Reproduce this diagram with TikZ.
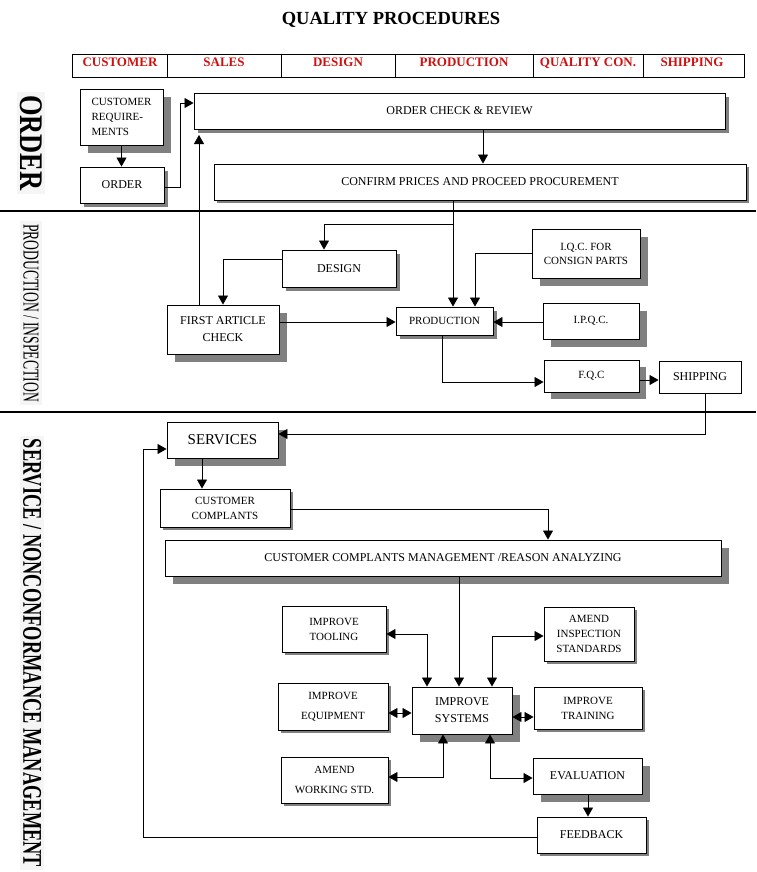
\documentclass[tikz,border=0pt]{standalone}
\usepackage{fontspec}
\setmainfont{Liberation Serif}
\usetikzlibrary{arrows.meta,shadows}
\definecolor{hdr}{RGB}{208,16,16}
\begin{document}
\begin{tikzpicture}[x=1pt,y=-1pt,
  bx/.style={draw, fill=white, line width=0.9pt, inner sep=0pt, align=center},
  shd/.style={drop shadow={shadow xshift=#1pt, shadow yshift=-#1pt, fill=black!50, opacity=1}},
  fA/.style={font=\fontsize{12}{#1}\selectfont},
  fB/.style={font=\fontsize{11}{#1}\selectfont},
  hd/.style={font=\fontsize{13}{13}\selectfont\bfseries, text=hdr, inner sep=0pt, anchor=base},
  lbl/.style={rotate=-90, inner sep=3pt, fill=black!4},
  con/.style={line width=0.8pt},
  arr/.style={con, -{Triangle[length=9pt,width=10pt]}},
  darr/.style={con, {Triangle[length=9pt,width=10pt]}-{Triangle[length=9pt,width=10pt]}}
]
\useasboundingbox (0,0) rectangle (756,872);

% title and header
\node[font=\fontsize{18.5}{19}\selectfont\bfseries, inner sep=0pt, anchor=base] (title) at (391,25) {QUALITY PROCEDURES};
\draw[line width=0.9pt] (72,54) rectangle (744,77);
\foreach \xx in {167,281,395,533,643} \draw[line width=0.9pt] (\xx,54) -- (\xx,77);
\node[hd] (h1) at (120,67) {CUSTOMER};
\node[hd] (h2) at (224,67) {SALES};
\node[hd] (h3) at (338,67) {DESIGN};
\node[hd] (h4) at (464,67) {PRODUCTION};
\node[hd] (h5) at (588,67) {QUALITY CON.};
\node[hd] (h6) at (692,67) {SHIPPING};

% section separators
\draw[line width=2.2pt] (0,211) -- (756,211);
\draw[line width=2.2pt] (0,412) -- (756,412);

% section labels
\node[lbl] (s1) at (31,143) {\scalebox{0.8}[1]{\fontsize{33}{33}\selectfont\bfseries ORDER}};
\node[lbl] (s2) at (31,313) {\scalebox{0.6}[1]{\fontsize{22.7}{23}\selectfont PRODUCTION / INSPECTION}};
\node[lbl] (s3) at (32,653) {\scalebox{0.68}[1]{\fontsize{27}{27}\selectfont\bfseries SERVICE / NONCONFORMANCE MANAGEMENT}};

% ORDER section
\node[bx, shd=8, fB=15, align=left, minimum width=83pt, minimum height=56pt] (cr) at (121.5,117) {CUSTOMER\\REQUIRE-\\MENTS};
\node[bx, shd=4, fA=15, minimum width=84pt, minimum height=36pt] (ord) at (122,185) {ORDER};
\node[bx, shd=4, fA=15, minimum width=531pt, minimum height=36pt] (occ) at (459.5,111) {ORDER CHECK \& REVIEW};
\node[bx, shd=3, fA=15, minimum width=532pt, minimum height=36pt] (conf) at (480,182) {CONFIRM PRICES AND PROCEED PROCUREMENT};

% PRODUCTION / INSPECTION section
\node[bx, shd=4, fA=15, minimum width=114pt, minimum height=37pt] (design) at (339,268.5) {DESIGN};
\node[bx, shd=8, fA=17, minimum width=112pt, minimum height=49pt] (fac) at (223,329.5) {FIRST ARTICLE\\CHECK};
\node[bx, shd=4, fB=15, minimum width=97pt, minimum height=28pt] (prod) at (444.5,321) {PRODUCTION};
\node[bx, shd=8, fB=14, minimum width=108pt, minimum height=49pt] (iqc) at (586,253.5) {I.Q.C. FOR\\CONSIGN PARTS};
\node[bx, shd=8, fB=15, minimum width=96pt, minimum height=36pt] (ipqc) at (591,321) {\raisebox{3pt}{I.P.Q.C.}};
\node[bx, shd=7, fB=15, minimum width=95pt, minimum height=32pt] (fqc) at (591.5,376) {F.Q.C};
\node[bx, fA=15, minimum width=82pt, minimum height=32pt] (ship) at (700,377) {SHIPPING};

% SERVICE section
\node[bx, shd=8, font=\fontsize{15}{18}\selectfont, minimum width=111pt, minimum height=36pt] (services) at (222.5,440) {SERVICES};
\node[bx, shd=3, fB=15, minimum width=130pt, minimum height=38pt] (cc) at (225,508) {CUSTOMER\\COMPLANTS};
\node[bx, shd=8, fA=15, minimum width=556pt, minimum height=36pt] (ccm) at (443,558) {CUSTOMER COMPLANTS MANAGEMENT /REASON ANALYZING};
\node[bx, shd=3, fB=15, minimum width=104pt, minimum height=46pt] (tooling) at (334,629) {IMPROVE\\TOOLING};
\node[bx, shd=3, fB=20, minimum width=110pt, minimum height=47pt] (equip) at (333,706.5) {IMPROVE\\EQUIPMENT};
\node[bx, shd=3, fB=20, minimum width=107pt, minimum height=46pt] (ws) at (334.5,780) {AMEND\\WORKING STD.};
\node[bx, shd=3, fB=15, minimum width=90pt, minimum height=54pt] (ais) at (589,634) {AMEND\\INSPECTION\\STANDARDS};
\node[bx, shd=8, fA=17, minimum width=100pt, minimum height=47pt] (is) at (462,710.5) {IMPROVE\\SYSTEMS};
\node[bx, shd=3, fB=15, minimum width=108pt, minimum height=42pt] (it) at (588,708) {IMPROVE\\TRAINING};
\node[bx, shd=8, fA=15, minimum width=109pt, minimum height=36pt] (eval) at (587.5,776) {EVALUATION};
\node[bx, shd=3, fA=15, minimum width=109pt, minimum height=36pt] (fb) at (591.5,835) {FEEDBACK};

% connectors: ORDER
\draw[arr] (cr.south) -- (cr.south |- ord.north);
\draw[arr] (ord.east |- 0,187) -- (180,187) -- (180,103) -- (occ.west |- 0,103);
\draw[arr] (fac.north -| 199,0) -- (199,135);
\draw[arr] (occ.south -| 483,0) -- (conf.north -| 483,0);

% connectors: PRODUCTION / INSPECTION
\draw[arr] (conf.south -| 453,0) -- (prod.north -| 453,0);
\draw[arr] (453,224) -- (324,224) -- (design.north -| 324,0);
\draw[arr] (design.west |- 0,259) -- (223,259) -- (fac.north -| 223,0);
\draw[arr] (fac.east |- 0,322) -- (prod.west |- 0,322);
\draw[arr] (iqc.west |- 0,253) -- (475,253) -- (prod.north -| 475,0);
\draw[arr] (ipqc.west |- 0,322) -- (prod.east |- 0,322);
\draw[arr] (prod.south -| 442,0) -- (442,382) -- (fqc.west |- 0,382);
\draw[arr] (fqc.east |- 0,380) -- (ship.west |- 0,380);
\draw[arr] (ship.south -| 705,0) -- (705,434) -- (services.east |- 0,434);

% connectors: SERVICE
\draw[arr] (services.south -| 202,0) -- (cc.north -| 202,0);
\draw[arr] (cc.east |- 0,509) -- (548,509) -- (ccm.north -| 548,0);
\draw[arr] (ccm.south -| 459,0) -- (is.north -| 459,0);
\draw[darr] (tooling.east |- 0,634) -- (427,634) -- (is.north -| 427,0);
\draw[darr] (is.north -| 492,0) -- (492,636) -- (ais.west |- 0,636);
\draw[darr] (equip.east |- 0,713) -- (is.west |- 0,713);
\draw[darr] (is.east |- 0,717) -- (it.west |- 0,717);
\draw[darr] (is.south -| 443,0) -- (443,777) -- (ws.east |- 0,777);
\draw[darr] (is.south -| 490,0) -- (490,778) -- (eval.west |- 0,778);
\draw[arr] (eval.south -| 588,0) -- (fb.north -| 588,0);
\draw[arr] (fb.west |- 0,837) -- (143,837) -- (143,449) -- (services.west |- 0,449);
\end{tikzpicture}
\end{document}
